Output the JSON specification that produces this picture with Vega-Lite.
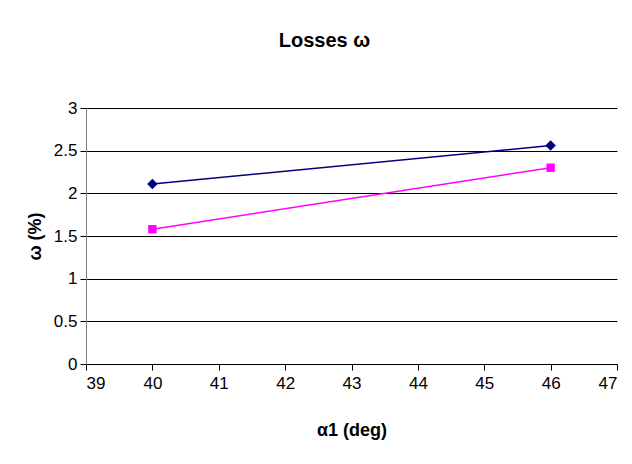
{
  "$schema": "https://vega.github.io/schema/vega-lite/v6.json",
  "width": 531,
  "height": 256,
  "autosize": "none",
  "padding": {"left": 86, "top": 108, "right": 15, "bottom": 100},
  "background": "white",
  "config": {
    "font": "Liberation Sans",
    "view": {"stroke": null},
    "axis": {"labelColor": "black", "titleColor": "black"}
  },
  "title": {
    "text": "Losses ω",
    "fontSize": 20,
    "fontWeight": "bold",
    "font": "Liberation Sans",
    "color": "black",
    "anchor": "middle",
    "dx": -27,
    "offset": 48
  },
  "data": {
    "values": [
      {"alpha": 40, "omega": 2.11, "series": "A"},
      {"alpha": 46, "omega": 2.56, "series": "A"},
      {"alpha": 40, "omega": 1.58, "series": "B"},
      {"alpha": 46, "omega": 2.30, "series": "B"}
    ]
  },
  "encoding": {
    "x": {
      "field": "alpha",
      "type": "quantitative",
      "scale": {"domain": [39, 47], "nice": false, "zero": false},
      "axis": {
        "title": "α1 (deg)",
        "values": [39, 40, 41, 42, 43, 44, 45, 46, 47],
        "grid": false,
        "domainColor": "black",
        "tickColor": "black",
        "tickSize": 6,
        "labelFont": "Liberation Sans",
        "labelFontSize": 17,
        "labelPadding": 5,
        "titleFont": "Liberation Sans",
        "titleFontSize": 18,
        "titleFontWeight": "bold",
        "titlePadding": 30
      }
    },
    "y": {
      "field": "omega",
      "type": "quantitative",
      "scale": {"domain": [0, 3], "nice": false},
      "axis": {
        "title": "ω (%)",
        "values": [0, 0.5, 1, 1.5, 2, 2.5, 3],
        "format": "~g",
        "grid": true,
        "gridColor": "black",
        "gridOpacity": 1,
        "gridWidth": 1,
        "domainColor": "#808080",
        "tickColor": "black",
        "tickSize": 6,
        "labelFont": "Liberation Sans",
        "labelFontSize": 17,
        "labelPadding": 3,
        "titleFont": "Liberation Sans",
        "titleFontSize": 18,
        "titleFontWeight": "bold",
        "titlePadding": 9
      }
    },
    "color": {
      "field": "series",
      "type": "nominal",
      "scale": {"domain": ["A", "B"], "range": ["#000080", "#FF00FF"]},
      "legend": null
    }
  },
  "layer": [
    {"mark": {"type": "line", "strokeWidth": 1.5}},
    {
      "mark": {"type": "point", "filled": true, "opacity": 1},
      "encoding": {
        "shape": {
          "field": "series",
          "type": "nominal",
          "scale": {"domain": ["A", "B"], "range": ["diamond", "square"]},
          "legend": null
        },
        "size": {
          "field": "series",
          "type": "nominal",
          "scale": {"domain": ["A", "B"], "range": [110, 70]},
          "legend": null
        }
      }
    }
  ]
}
